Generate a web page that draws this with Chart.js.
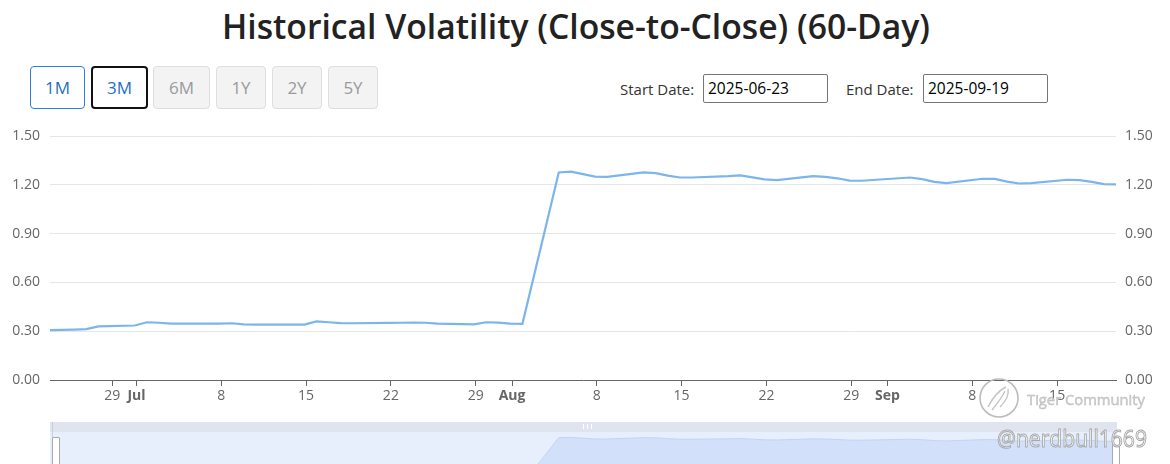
<!DOCTYPE html>
<html><head><meta charset="utf-8">
<script src="https://cdn.jsdelivr.net/npm/chart.js@4.4.1/dist/chart.umd.min.js"></script>
<style>
html,body{margin:0;padding:0;width:1170px;height:464px;overflow:hidden;background:#fff;font-family:"Open Sans","Noto Sans",sans-serif;}
#title{position:absolute;left:0;top:9px;width:1152px;text-align:center;line-height:34px;height:40px;}
#title span{display:inline-block;font-size:35px;font-weight:600;color:#222;white-space:nowrap;transform-origin:center;}
.btn{position:absolute;top:66px;height:43px;box-sizing:border-box;border-radius:4px;font-size:17px;line-height:41px;text-align:center;}
.on{border:1px solid #2f7ed8;color:#1f6fbf;background:#fff;}
.sel{border:2px solid #111;color:#1f6fbf;background:#fff;line-height:39px;}
.off{border:1px solid #dedede;color:#9a9a9a;background:#f3f3f3;}
.lbl{position:absolute;top:78px;font-size:15px;color:#333;line-height:22px;}
.inp{position:absolute;top:74px;height:29px;width:125px;box-sizing:border-box;border:1px solid #767676;border-radius:2px;font-size:15.5px;line-height:27px;padding-left:4px;color:#000;}
#main{position:absolute;left:0;top:116px;width:1170px;height:300px;}
#navband{position:absolute;left:50px;top:422px;width:1067px;height:10px;background:#dfe4ee;}
#grip{position:absolute;left:583px;top:424px;width:7px;height:5px;border-left:1px solid #fff;border-right:1px solid #fff;}
#grip:after{content:"";position:absolute;left:3px;top:0;width:1px;height:5px;background:#fff;}
#navbg{position:absolute;left:50px;top:432px;width:1067px;height:40px;background:#e7eefc;}
#nav{position:absolute;left:50px;top:432px;width:1066px;height:58px;}
#hl{position:absolute;left:52px;top:437px;width:6px;height:30px;background:#fff;border:1px solid #aaa;border-radius:1px;}
#hlline{position:absolute;left:52px;top:422px;width:1px;height:16px;background:#c8cfdc;}
#hr{position:absolute;left:1112px;top:437px;width:6px;height:30px;background:#fff;border:1px solid #aaa;border-radius:1px;}
#wm1{position:absolute;left:1027px;top:389px;font-size:15px;color:#d2d2d2;-webkit-text-stroke:0.4px #b5b5b5;white-space:nowrap;transform-origin:left center;}
#wm2{position:absolute;left:997px;top:421px;font-size:24px;color:rgba(255,255,255,0.85);-webkit-text-stroke:1px #a8a8a8;white-space:nowrap;transform-origin:left center;}
#logo{position:absolute;left:978px;top:377px;}
</style></head>
<body>
<div id="title"><span id="tt">Historical Volatility (Close-to-Close) (60-Day)</span></div>

<div class="btn on"  style="left:30px;width:55px;">1M</div>
<div class="btn sel" style="left:91px;width:57px;">3M</div>
<div class="btn off" style="left:153px;width:57px;">6M</div>
<div class="btn off" style="left:216px;width:50px;">1Y</div>
<div class="btn off" style="left:272px;width:50px;">2Y</div>
<div class="btn off" style="left:328px;width:50px;">5Y</div>

<div class="lbl" style="left:620px;">Start Date:</div>
<div class="inp" style="left:703px;">2025-06-23</div>
<div class="lbl" style="left:846px;">End Date:</div>
<div class="inp" style="left:923px;">2025-09-19</div>

<canvas id="main" width="1170" height="300"></canvas>

<div id="navband"></div><div id="grip"></div>
<div id="navbg"></div>
<canvas id="nav" width="1066" height="58"></canvas>
<div id="hlline"></div>
<div id="hl"></div><div id="hr"></div>

<svg id="logo" width="44" height="44" viewBox="0 0 44 44">
  <circle cx="21" cy="21" r="19" fill="none" stroke="#bcbcbc" stroke-width="1.6"/>
  <path d="M10 30 C14 22 20 14 28 10 M14 33 C19 27 24 20 27 14 M30 12 C31 17 28 24 22 30" fill="none" stroke="#c4c4c4" stroke-width="1.4"/>
</svg>
<div id="wm1"><span id="wm1t">Tiger Community</span></div>
<div id="wm2"><span id="wm2t">@nerdbull1669</span></div>

<script>
// ---------------- data ----------------
const START_DATE = '2025-06-23';
const tradingDates = [
 '2025-06-23','2025-06-24','2025-06-25','2025-06-26','2025-06-27',
 '2025-06-30','2025-07-01','2025-07-02','2025-07-03',
 '2025-07-07','2025-07-08','2025-07-09','2025-07-10','2025-07-11',
 '2025-07-14','2025-07-15','2025-07-16','2025-07-17','2025-07-18',
 '2025-07-21','2025-07-22','2025-07-23','2025-07-24','2025-07-25',
 '2025-07-28','2025-07-29','2025-07-30','2025-07-31','2025-08-01',
 '2025-08-04','2025-08-05','2025-08-06','2025-08-07','2025-08-08',
 '2025-08-11','2025-08-12','2025-08-13','2025-08-14','2025-08-15',
 '2025-08-18','2025-08-19','2025-08-20','2025-08-21','2025-08-22',
 '2025-08-25','2025-08-26','2025-08-27','2025-08-28','2025-08-29',
 '2025-09-02','2025-09-03','2025-09-04','2025-09-05',
 '2025-09-08','2025-09-09','2025-09-10','2025-09-11','2025-09-12',
 '2025-09-15','2025-09-16','2025-09-17','2025-09-18','2025-09-19'
];
const hv60 = [
 0.306,0.308,0.310,0.313,0.330,
 0.335,0.355,0.352,0.347,
 0.347,0.349,0.342,0.341,0.341,
 0.341,0.360,0.355,0.350,0.349,
 0.351,0.352,0.353,0.352,0.347,
 0.342,0.355,0.353,0.347,0.345,
 1.276,1.281,1.266,1.250,1.249,
 1.276,1.272,1.256,1.245,1.245,
 1.253,1.258,1.246,1.233,1.229,
 1.253,1.249,1.240,1.226,1.225,
 1.245,1.235,1.218,1.210,
 1.237,1.236,1.220,1.208,1.210,
 1.231,1.229,1.218,1.204,1.203
];
const tickDates  = ['2025-06-29','2025-07-01','2025-07-08','2025-07-15','2025-07-22','2025-07-29','2025-08-01','2025-08-08','2025-08-15','2025-08-22','2025-08-29','2025-09-01','2025-09-08','2025-09-15'];
const tickLabels = ['29','Jul','8','15','22','29','Aug','8','15','22','29','Sep','8','15'];
const monthTicks = ['Jul','Aug','Sep'];
const yTickValues = [0, 0.3, 0.6, 0.9, 1.2, 1.5];
// close timestamps fall late in the trading day on the axis clock
const CLOSE_FRACTION = 0.86;

// ---------------- helpers ----------------
const DAY = 86400000;
const t0 = Date.parse(START_DATE + 'T00:00:00Z');
const dayIdx = s => (Date.parse(s + 'T00:00:00Z') - t0) / DAY;
const points = tradingDates.map((d, i) => ({x: dayIdx(d) + CLOSE_FRACTION, y: hv60[i]}));
const xMin = points[0].x, xMax = points[points.length - 1].x;
const tickPos = tickDates.map(dayIdx);
const labelAt = {}; tickPos.forEach((p, i) => labelAt[p] = tickLabels[i]);

// text width fits
function fitWidth(id, target) {
  const el = document.getElementById(id);
  el.style.display = 'inline-block';
  const w = el.getBoundingClientRect().width;
  el.style.transform = 'scaleX(' + (target / w) + ')';
  el.style.transformOrigin = 'left center';
}
const tt = document.getElementById('tt');
tt.style.transform = 'scaleX(' + (708 / tt.getBoundingClientRect().width) + ')';
fitWidth('wm1t', 118);
fitWidth('wm2t', 150);

const FONT = '"Open Sans","Noto Sans",sans-serif';

new Chart(document.getElementById('main'), {
  type: 'line',
  data: { datasets: [{ data: points, borderColor: '#7cb5ec', borderWidth: 2.2, pointRadius: 0, tension: 0, fill: false, yAxisID: 'y' }] },
  options: {
    responsive: false, animation: false, events: [],
    layout: { padding: { top: 20, left: 0, right: 0, bottom: 0 } },
    plugins: { legend: { display: false }, tooltip: { enabled: false } },
    scales: {
      x: {
        type: 'linear', min: xMin, max: xMax,
        afterBuildTicks: s => { s.ticks = tickPos.map(v => ({ value: v })); },
        afterFit: s => { s.height = 36; },
        ticks: {
          autoSkip: false, maxRotation: 0, padding: 2, color: '#666',
          callback: v => labelAt[v] !== undefined ? labelAt[v] : '',
          font: ctx => ({ family: FONT, size: 14, weight: (ctx.tick && monthTicks.includes(labelAt[ctx.tick.value])) ? 'bold' : 'normal' })
        },
        grid: { display: true, drawOnChartArea: false, drawTicks: true, tickLength: 6, color: '#666', lineWidth: 1 },
        border: { display: true, color: '#666', width: 1 }
      },
      y: {
        position: 'left', min: 0, max: 1.5,
        afterBuildTicks: s => { s.ticks = yTickValues.map(v => ({ value: v })); },
        afterFit: s => { s.width = 50; },
        ticks: { padding: 10, color: '#666', font: { family: FONT, size: 14 }, callback: v => v.toFixed(2) },
        grid: { color: '#e6e6e6', drawTicks: false, lineWidth: 1 },
        border: { display: false }
      },
      y2: {
        position: 'right', min: 0, max: 1.5,
        afterBuildTicks: s => { s.ticks = yTickValues.map(v => ({ value: v })); },
        afterFit: s => { s.width = 54; },
        ticks: { padding: 9, color: '#666', font: { family: FONT, size: 14 }, callback: v => v.toFixed(2) },
        grid: { display: false, drawTicks: false },
        border: { display: false }
      }
    }
  }
});

new Chart(document.getElementById('nav'), {
  type: 'line',
  data: { datasets: [{ data: points, borderColor: '#c2d3f3', borderWidth: 1, backgroundColor: '#d3e0fa', fill: 'start', pointRadius: 0, tension: 0 }] },
  options: {
    responsive: false, animation: false, events: [],
    layout: { padding: 0 },
    plugins: { legend: { display: false }, tooltip: { enabled: false } },
    scales: {
      x: { type: 'linear', display: false, min: xMin, max: xMax },
      y: { display: false, min: 0.224, max: 1.39 }
    }
  }
});
</script>
</body></html>
